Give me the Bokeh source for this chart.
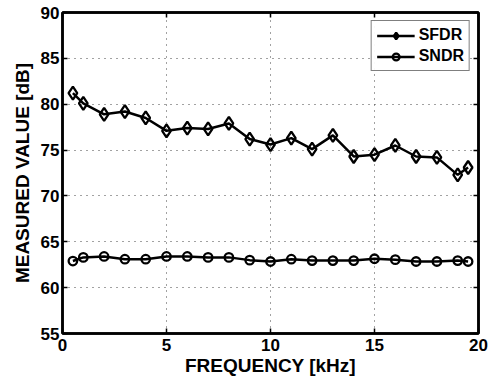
from bokeh.plotting import figure
from bokeh.models import LinearAxis, FixedTicker, Range1d, Legend, LegendItem
from bokeh.embed import file_html
from bokeh.resources import INLINE

freq = [0.5, 1, 2, 3, 4, 5, 6, 7, 8, 9, 10, 11, 12, 13, 14, 15, 16, 17, 18, 19, 19.5]
sfdr = [81.2, 80.1, 78.9, 79.2, 78.5, 77.1, 77.4, 77.3, 77.9, 76.2, 75.6,
        76.3, 75.1, 76.6, 74.3, 74.5, 75.5, 74.3, 74.2, 72.3, 73.1]
sndr = [62.9, 63.3, 63.4, 63.1, 63.1, 63.4, 63.4, 63.3, 63.3, 63.0, 62.85,
        63.1, 62.95, 62.95, 62.95, 63.15, 63.05, 62.85, 62.85, 62.95, 62.85]
x_ticks = [0, 5, 10, 15, 20]
y_ticks = [55, 60, 65, 70, 75, 80, 85, 90]

FONT = "Liberation Sans"

p = figure(width=490, height=379, output_backend="svg", toolbar_location=None,
           x_range=Range1d(0, 20), y_range=Range1d(55, 90),
           min_border_left=62, min_border_right=12, min_border_top=12, min_border_bottom=46)
p.background_fill_color = "white"
p.border_fill_color = "white"
p.outline_line_color = "black"
p.outline_line_width = 2.5
p.outline_line_alpha = 1.0

for ax in (p.xaxis[0], p.yaxis[0]):
    ax.axis_line_width = 2.5
    ax.axis_line_color = "black"
    ax.major_tick_in = 5
    ax.major_tick_out = 0
    ax.major_tick_line_width = 1.5
    ax.minor_tick_line_color = None
    ax.major_label_text_font = FONT
    ax.major_label_text_font_style = "bold"
    ax.major_label_text_font_size = "17px"
    ax.major_label_text_color = "black"
    ax.axis_label_text_font = FONT
    ax.axis_label_text_font_style = "bold"
    ax.axis_label_text_font_size = "19px"
    ax.axis_label_text_color = "black"

p.xaxis.ticker = FixedTicker(ticks=x_ticks)
p.yaxis.ticker = FixedTicker(ticks=y_ticks)
p.xaxis.axis_label = "FREQUENCY [kHz]"
p.yaxis.axis_label = "MEASURED VALUE [dB]"
p.xaxis.major_label_standoff = 5
p.xaxis.axis_label_standoff = 1
p.yaxis.major_label_standoff = 3
p.yaxis.axis_label_standoff = 5

for loc, ticks in (("right", y_ticks), ("above", x_ticks)):
    ax = LinearAxis(ticker=FixedTicker(ticks=ticks),
                    axis_line_width=2.5, major_tick_in=5, major_tick_out=0,
                    major_tick_line_width=1.5, minor_tick_line_color=None,
                    major_label_overrides={t: "" for t in ticks},
                    major_label_standoff=0)
    p.add_layout(ax, loc)

p.grid.grid_line_color = "#444444"
p.grid.grid_line_dash = "1 5"
p.grid.grid_line_width = 1

r1 = p.line(freq, sfdr, line_color="black", line_width=2.5)
m1 = p.scatter(freq, sfdr, marker="diamond", size=13, line_color="black",
               line_width=2.3, fill_alpha=0)
r2 = p.line(freq, sndr, line_color="black", line_width=2.5)
m2 = p.scatter(freq, sndr, marker="circle", size=8.5, line_color="black",
               line_width=2.3, fill_alpha=0)

legend = Legend(items=[LegendItem(label="SFDR", renderers=[r1, m1]),
                       LegendItem(label="SNDR", renderers=[r2, m2])],
                location="top_right")
legend.label_text_font = FONT
legend.label_text_font_style = "bold"
legend.label_text_font_size = "16px"
legend.label_text_color = "black"
legend.border_line_color = "black"
legend.border_line_width = 1.5
legend.glyph_width = 38
legend.glyph_height = 17
legend.label_height = 17
legend.label_standoff = 4
legend.spacing = 3
legend.padding = 5
legend.margin = 8
p.add_layout(legend)

open("out.html", "w").write(file_html(p, INLINE))
